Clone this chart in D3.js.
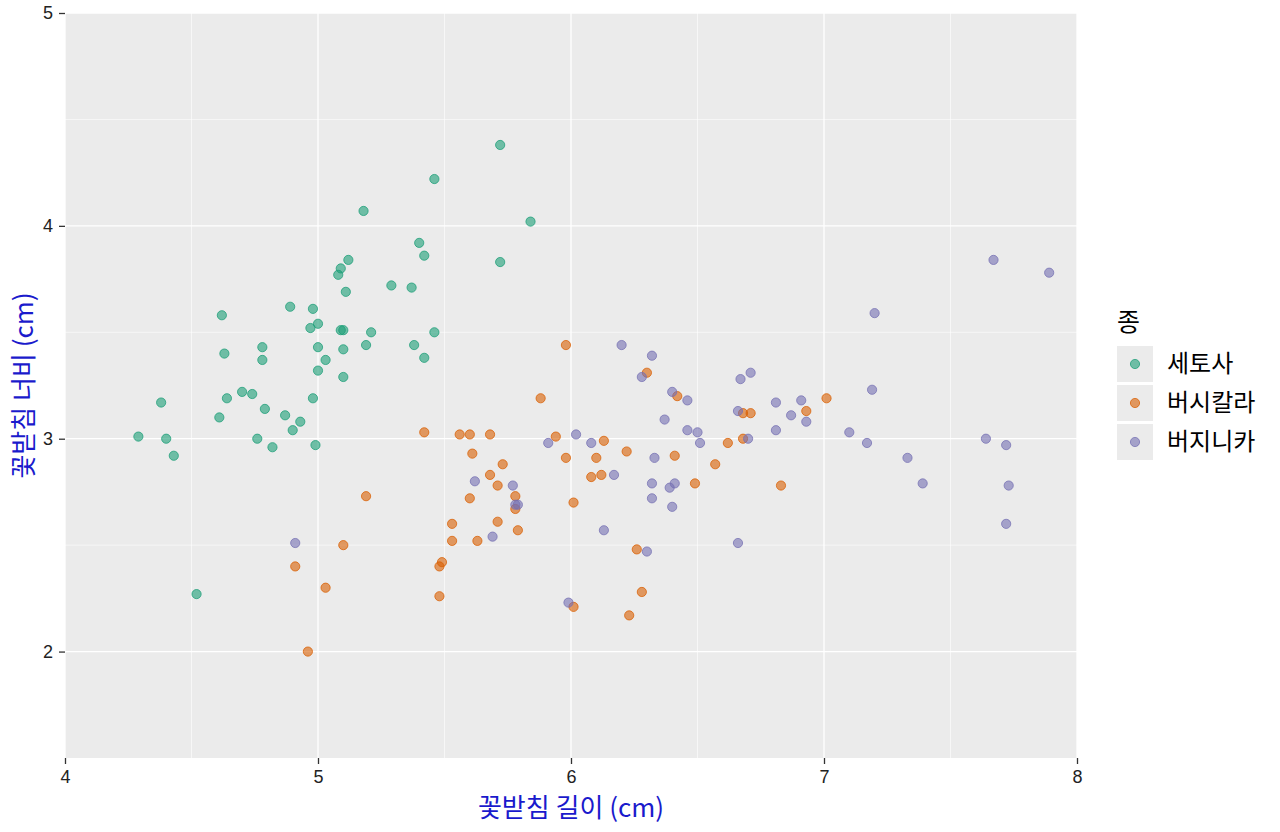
<!DOCTYPE html>
<html>
<head>
<meta charset="utf-8">
<script src="https://cdn.jsdelivr.net/npm/d3@7"></script>
<style>
  body { margin: 0; background: #fff; }
  svg { display: block; font-family: "Noto Sans CJK KR", "Noto Sans", sans-serif; }
</style>
</head>
<body>
<svg id="chart" width="1280" height="832"></svg>
<script>
// species names (legend order)
const species = ["세토사", "버시칼라", "버지니카"]
const speciesColors = ["#1B9E77", "#D95F02", "#7570B3"]

// sepal length / width
const setosaLength = [4.62, 4.89, 4.98, 5.00, 4.97, 5.09, 5.10, 5.21, 5.46, 5.00,
  5.10, 5.19, 5.38, 5.03, 5.00, 5.42, 5.10, 4.98, 4.63, 4.78,
  4.78, 4.38, 4.64, 4.70, 4.74, 4.79, 4.61, 4.87, 4.93, 4.90,
  4.29, 4.40, 4.43, 4.76, 4.82, 4.99, 4.52, 5.72, 5.46, 5.18,
  5.84, 5.40, 5.42, 5.12, 5.09, 5.08, 5.72, 5.11, 5.29, 5.37]
const setosaWidth = [3.58, 3.62, 3.61, 3.54, 3.52, 3.51, 3.51, 3.50, 3.50, 3.43,
  3.42, 3.44, 3.44, 3.37, 3.32, 3.38, 3.29, 3.19, 3.40, 3.43,
  3.37, 3.17, 3.19, 3.22, 3.21, 3.14, 3.10, 3.11, 3.08, 3.04,
  3.01, 3.00, 2.92, 3.00, 2.96, 2.97, 2.27, 4.38, 4.22, 4.07,
  4.02, 3.92, 3.86, 3.84, 3.80, 3.77, 3.83, 3.69, 3.72, 3.71]

const versicolorLength = [5.88, 5.42, 5.56, 5.60, 5.68, 5.94, 5.61, 5.73, 5.68, 5.71,
  5.60, 5.78, 5.78, 5.19, 5.53, 5.71, 5.79, 5.53, 5.63, 5.10,
  4.91, 5.03, 5.49, 5.48, 5.48, 4.96, 5.98, 6.30, 6.42, 6.13,
  5.98, 6.10, 6.22, 6.41, 6.08, 6.12, 6.57, 6.49, 6.62, 6.68,
  6.71, 6.68, 6.83, 6.01, 6.26, 6.28, 6.01, 6.23, 6.93, 7.01]
const versicolorWidth = [3.19, 3.03, 3.02, 3.02, 3.02, 3.01, 2.93, 2.88, 2.83, 2.78,
  2.72, 2.73, 2.67, 2.73, 2.60, 2.61, 2.57, 2.52, 2.52, 2.50,
  2.40, 2.30, 2.42, 2.40, 2.26, 2.00, 3.44, 3.31, 3.20, 2.99,
  2.91, 2.91, 2.94, 2.92, 2.82, 2.83, 2.88, 2.79, 2.98, 3.12,
  3.12, 3.00, 2.78, 2.70, 2.48, 2.28, 2.21, 2.17, 3.13, 3.19]

const virginicaLength = [5.91, 5.62, 5.77, 5.78, 5.79, 5.69, 4.91, 6.20, 6.32, 6.28,
  6.67, 6.71, 6.40, 6.46, 6.66, 6.81, 6.91, 6.87, 6.93, 6.37,
  6.46, 6.50, 6.51, 6.81, 6.70, 6.02, 6.08, 6.33, 6.17, 6.32,
  6.39, 6.41, 6.32, 6.40, 6.13, 6.66, 6.30, 5.99, 7.67, 7.20,
  7.19, 7.10, 7.17, 7.33, 7.39, 7.64, 7.72, 7.73, 7.72, 7.89]
const virginicaWidth = [2.98, 2.80, 2.78, 2.69, 2.69, 2.54, 2.51, 3.44, 3.39, 3.29,
  3.28, 3.31, 3.22, 3.18, 3.13, 3.17, 3.18, 3.11, 3.08, 3.09,
  3.04, 3.03, 2.98, 3.04, 3.00, 3.02, 2.98, 2.91, 2.83, 2.79,
  2.77, 2.79, 2.72, 2.68, 2.57, 2.51, 2.47, 2.23, 3.84, 3.59,
  3.23, 3.03, 2.98, 2.91, 2.79, 3.00, 2.97, 2.78, 2.60, 3.78]

const xTicks = [4, 5, 6, 7, 8]
const yTicks = [2, 3, 4, 5]

// build rows from the arrays
const points = []
const lengths = [setosaLength, versicolorLength, virginicaLength]
const widths = [setosaWidth, versicolorWidth, virginicaWidth]
species.forEach((sp, i) => {
  lengths[i].forEach((len, j) => {
    points.push({ species: sp, length: len, width: widths[i][j] })
  })
})

const panel = { left: 65, top: 13, right: 1077, bottom: 758 }

const svg = d3.select('#chart')

const x = d3.scaleLinear().domain([4, 8]).range([panel.left, panel.right])
const y = d3.scaleLinear().domain([1.5, 5]).range([panel.bottom, panel.top])
const color = d3.scaleOrdinal().domain(species).range(speciesColors)

// panel background
svg.append('rect')
  .attr('x', panel.left)
  .attr('y', panel.top)
  .attr('width', panel.right - panel.left)
  .attr('height', panel.bottom - panel.top)
  .attr('fill', '#ebebeb')

// minor grid
const grid = svg.append('g')
grid.selectAll('line.xminor')
  .data([4.5, 5.5, 6.5, 7.5])
  .enter().append('line')
  .attr('x1', d => x(d)).attr('x2', d => x(d))
  .attr('y1', panel.top).attr('y2', panel.bottom)
  .attr('stroke', '#fff').attr('stroke-width', 0.6)
grid.selectAll('line.yminor')
  .data([2.5, 3.5, 4.5])
  .enter().append('line')
  .attr('y1', d => y(d)).attr('y2', d => y(d))
  .attr('x1', panel.left).attr('x2', panel.right)
  .attr('stroke', '#fff').attr('stroke-width', 0.6)

// major grid
grid.selectAll('line.xmajor')
  .data(xTicks)
  .enter().append('line')
  .attr('x1', d => x(d)).attr('x2', d => x(d))
  .attr('y1', panel.top).attr('y2', panel.bottom)
  .attr('stroke', '#fff').attr('stroke-width', 1.3)
grid.selectAll('line.ymajor')
  .data(yTicks)
  .enter().append('line')
  .attr('y1', d => y(d)).attr('y2', d => y(d))
  .attr('x1', panel.left).attr('x2', panel.right)
  .attr('stroke', '#fff').attr('stroke-width', 1.3)

// axes
const xAxis = svg.append('g')
  .attr('transform', `translate(0,${panel.bottom})`)
  .call(d3.axisBottom(x).tickValues(xTicks).tickFormat(d3.format('d')).tickSize(6).tickPadding(6))
const yAxis = svg.append('g')
  .attr('transform', `translate(${panel.left},0)`)
  .call(d3.axisLeft(y).tickValues(yTicks).tickFormat(d3.format('d')).tickSize(6).tickPadding(6))

;[xAxis, yAxis].forEach(ax => {
  ax.select('.domain').remove()
  ax.selectAll('.tick line').attr('stroke', '#333').attr('stroke-width', 1.3)
  ax.selectAll('.tick text')
    .attr('fill', '#222')
    .style('font-size', '18px')
    .style('font-family', '"Liberation Sans", Arial, sans-serif')
})

// points
svg.append('g')
  .selectAll('circle')
  .data(points)
  .enter().append('circle')
  .attr('cx', d => x(d.length))
  .attr('cy', d => y(d.width))
  .attr('r', 4.6)
  .attr('fill', d => color(d.species))
  .attr('fill-opacity', 0.6)
  .attr('stroke', d => color(d.species))
  .attr('stroke-opacity', 0.75)
  .attr('stroke-width', 1)

// axis titles
svg.append('text')
  .attr('x', (panel.left + panel.right) / 2)
  .attr('y', 817)
  .attr('text-anchor', 'middle')
  .attr('fill', '#1a1acc')
  .style('font-size', '26px')
  .text('꽃받침 길이 (cm)')

svg.append('text')
  .attr('transform', `translate(33,${(panel.top + panel.bottom) / 2}) rotate(-90)`)
  .attr('text-anchor', 'middle')
  .attr('fill', '#1a1acc')
  .style('font-size', '26px')
  .text('꽃받침 너비 (cm)')

// legend
const legend = svg.append('g').attr('transform', 'translate(1117,0)')
legend.append('text')
  .attr('x', 0)
  .attr('y', 331)
  .attr('fill', '#000')
  .style('font-size', '25px')
  .text('종')

const keys = legend.selectAll('g.key')
  .data(species)
  .enter().append('g')
  .attr('transform', (d, i) => `translate(0,${346 + i * 39})`)
keys.append('rect')
  .attr('width', 36).attr('height', 36)
  .attr('fill', '#ebebeb')
keys.append('circle')
  .attr('cx', 18).attr('cy', 18).attr('r', 4.6)
  .attr('fill', d => color(d))
  .attr('fill-opacity', 0.6)
  .attr('stroke', d => color(d))
  .attr('stroke-opacity', 0.75)
keys.append('text')
  .attr('x', 50).attr('y', 18)
  .attr('dy', '0.35em')
  .attr('fill', '#000')
  .style('font-size', '24px')
  .text(d => d)
</script>
</body>
</html>
